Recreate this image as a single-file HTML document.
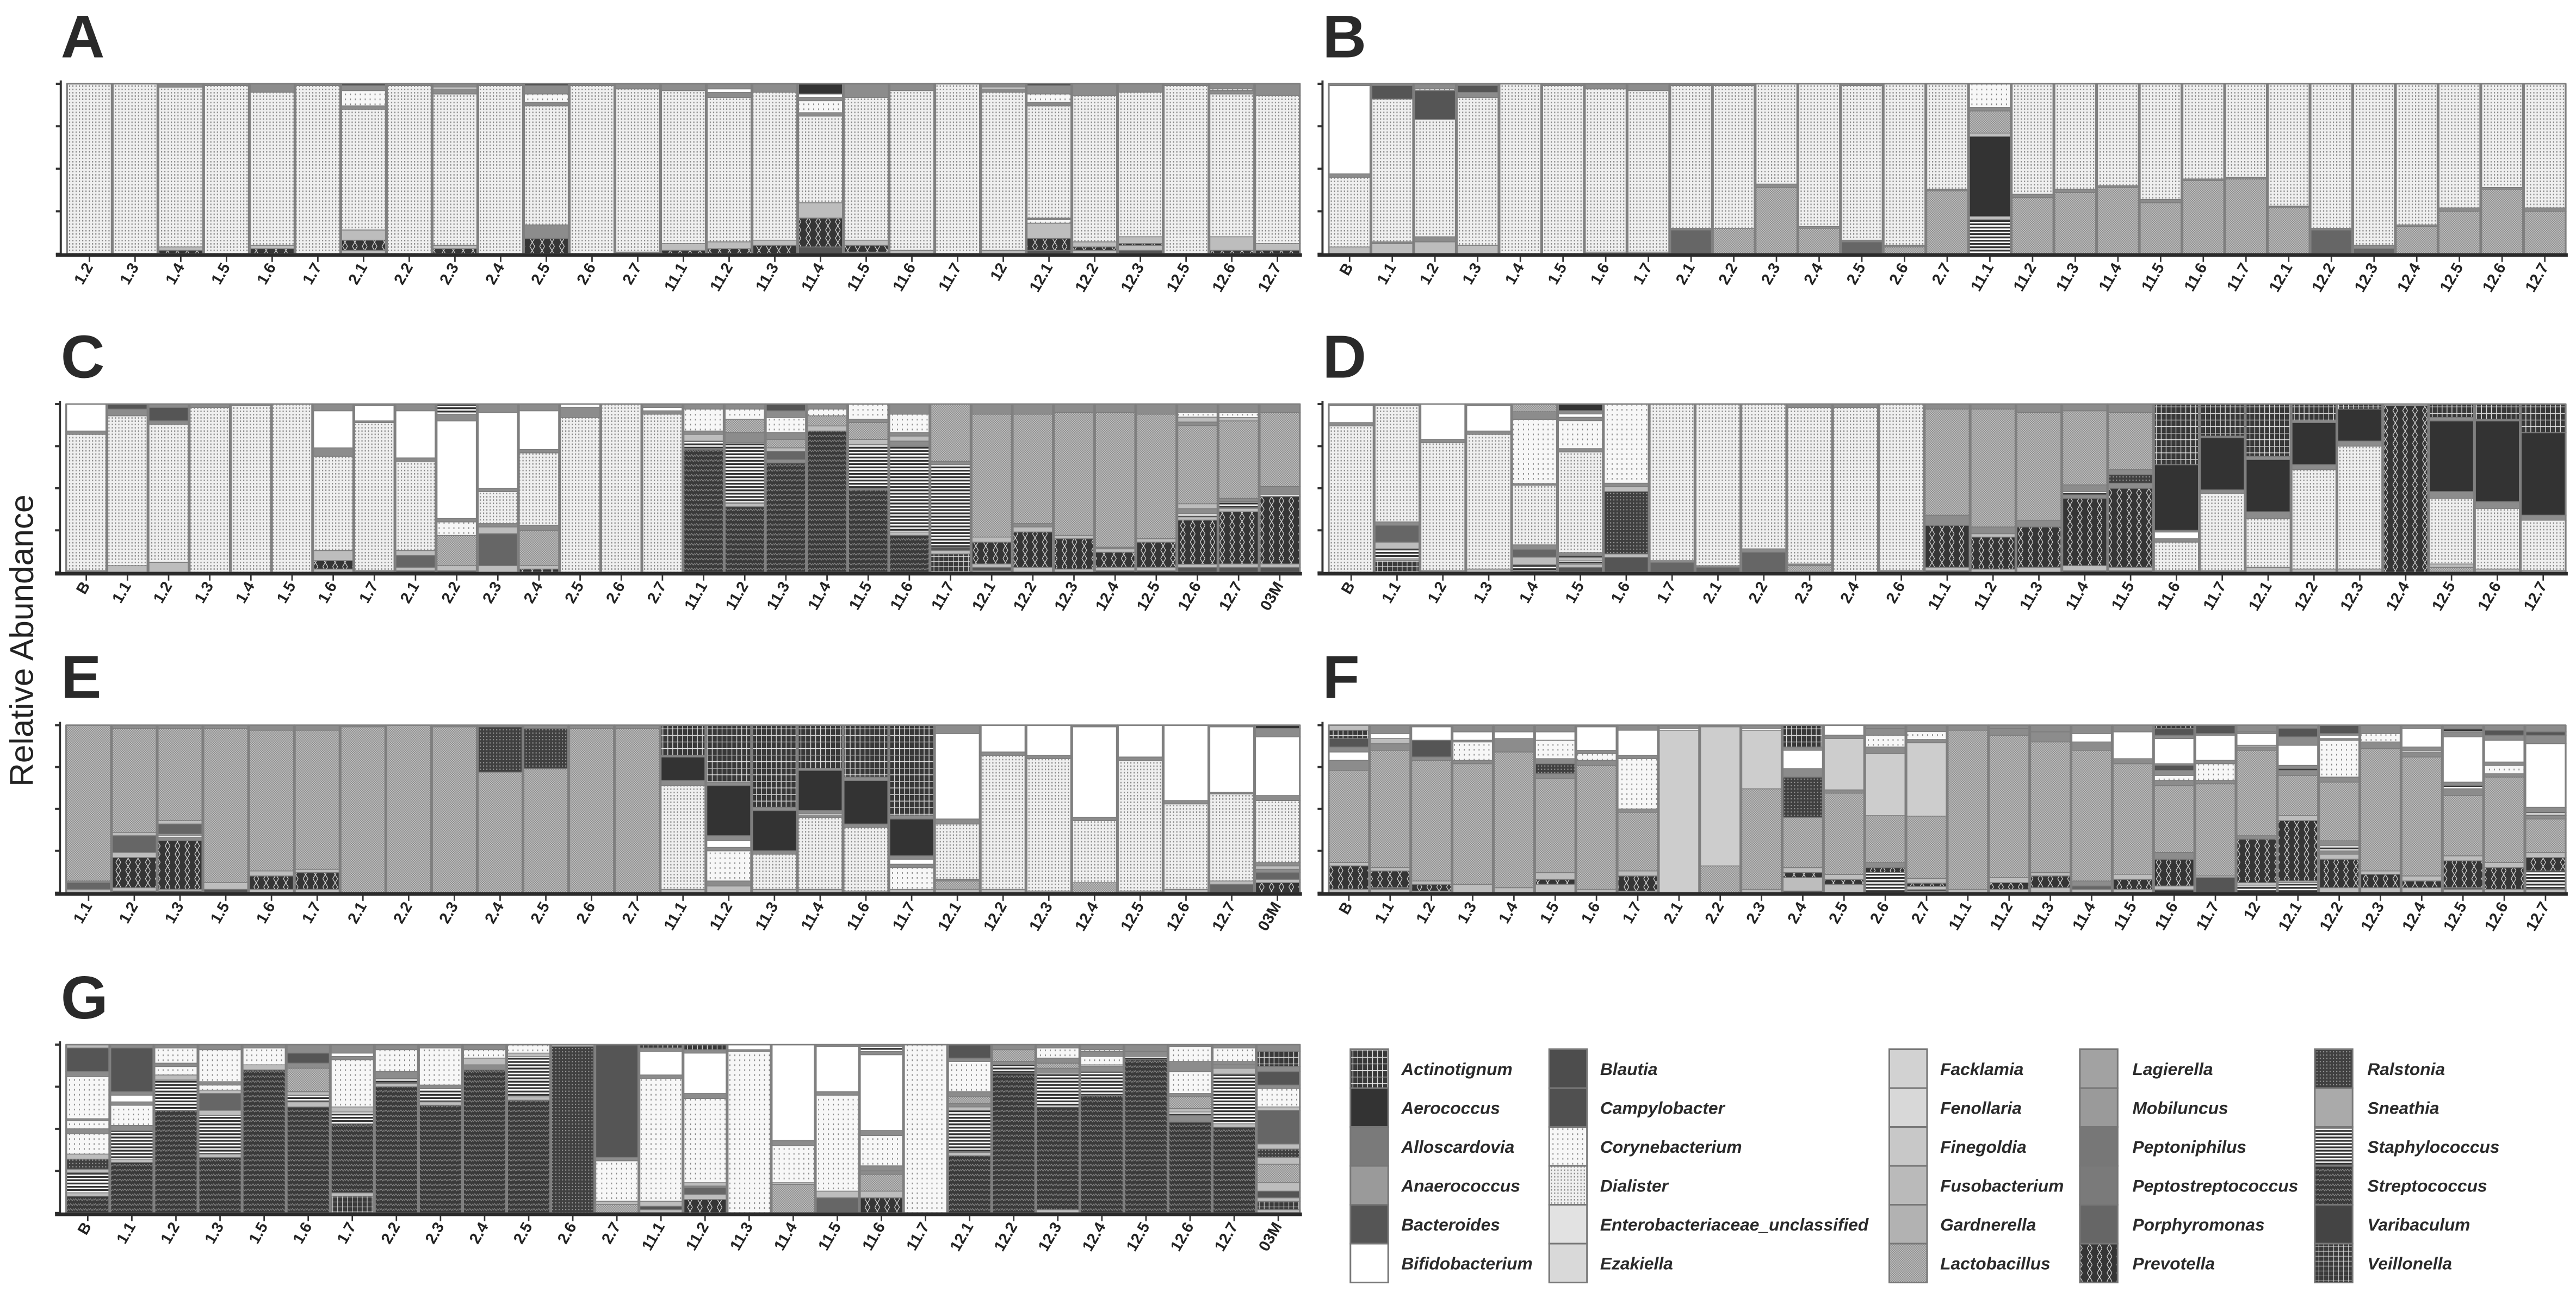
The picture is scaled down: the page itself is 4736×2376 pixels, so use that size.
<!DOCTYPE html>
<html><head><meta charset="utf-8">
<style>
html,body{margin:0;padding:0;background:#fff;}
svg{display:block;}
text{font-family:"Liberation Sans",Arial,sans-serif;}
</style></head>
<body>
<svg id="fig" xmlns="http://www.w3.org/2000/svg" width="4736" height="2376" viewBox="0 0 1568 786.6" preserveAspectRatio="none">
<defs>
  <pattern id="pL" patternUnits="userSpaceOnUse" width="2" height="2"><rect width="2" height="2" fill="#efefef"/><rect width="0.7" height="0.9" fill="#8a8a8a"/></pattern>
  <pattern id="pC" patternUnits="userSpaceOnUse" width="3" height="3"><rect width="3" height="3" fill="#f7f7f7"/><rect width="0.6" height="1" fill="#888"/></pattern>
  <pattern id="pM" patternUnits="userSpaceOnUse" width="1.4" height="1.4"><rect width="1.4" height="1.4" fill="#c2c2c2"/><rect width="0.7" height="0.7" fill="#8a8a8a"/><rect x="0.7" y="0.7" width="0.7" height="0.7" fill="#8a8a8a"/></pattern>
  <pattern id="pH" patternUnits="userSpaceOnUse" width="6" height="5"><rect width="6" height="5" fill="#353535"/><path d="M0 2.5 L1.5 0 M4.5 0 L6 2.5 M0 2.5 L1.5 5 M4.5 5 L6 2.5" stroke="#ddd" stroke-width="0.4" fill="none"/></pattern>
  <pattern id="pA" patternUnits="userSpaceOnUse" width="6" height="4"><rect width="6" height="4" fill="#383838"/><path d="M0 3.7 H6 M1.5 0 V3.7 M4.5 0 V3.7" stroke="#eee" stroke-width="0.4"/></pattern>
  <pattern id="pT" patternUnits="userSpaceOnUse" width="3" height="2"><rect width="3" height="2" fill="#fff"/><rect width="3" height="1.1" fill="#333"/></pattern>
  <pattern id="pS" patternUnits="userSpaceOnUse" width="3" height="3"><rect width="3" height="3" fill="#3a3a3a"/><path d="M0 2 L1 0.8 L2 2 L3 0.8" stroke="#888" stroke-width="0.4" fill="none"/></pattern>
  <pattern id="pV" patternUnits="userSpaceOnUse" width="3" height="3"><rect width="3" height="3" fill="#3a3a3a"/><path d="M0 2.8 H3 M1.5 0 V3" stroke="#ddd" stroke-width="0.35"/></pattern>
  <pattern id="pR" patternUnits="userSpaceOnUse" width="2" height="2"><rect width="2" height="2" fill="#404040"/><rect width="0.7" height="0.7" fill="#999"/></pattern>
</defs>
<g id="plots"></g>
<text transform="translate(20,390) rotate(-90)" text-anchor="middle" font-size="20" fill="#222">Relative Abundance</text>
<g id="legend"></g>
</svg>
<script>
// ---------- data ----------
const labelsA = ["1.2","1.3","1.4","1.5","1.6","1.7","2.1","2.2","2.3","2.4","2.5","2.6","2.7","11.1","11.2","11.3","11.4","11.5","11.6","11.7","12","12.1","12.2","12.3","12.5","12.6","12.7"];
const stacksA = ["L100","L100","H2 l2 L94 g2","L99 g1","H3 l2 L90 g5","L99 g1","l2 H6 l6 L71 g2 C9 g3 D1","L99 g1","H3 l2 L89 g3 W1 g2","L99 g1","H9 g8 L70 g2 C5 g5 D1","L99 g1","g1 L96 g3","H2 l4 L90 g4","H3 l4 L85 g3 W2 g3","H5 l3 L87 g5","K4 H17 l9 L51 g2 C7 g2 W2 D6","g1 H4 l3 L84 g8","l2 L94 g4","L100","l2 L93 g2 W1 g2","K2 H7 l9 C2 g1 L66 g2 C5 g5 D1","l2 H2 l3 L86 g7","K2 l3 H1 l4 L85 g5","L99 g1","H2 l8 L84 g2 C1 g3","H2 l4 L87 g7"];
const labelsB = ["B","1.1","1.2","1.3","1.4","1.5","1.6","1.7","2.1","2.2","2.3","2.4","2.5","2.6","2.7","11.1","11.2","11.3","11.4","11.5","11.6","11.7","12.1","12.2","12.3","12.4","12.5","12.6","12.7"];
const stacksB = ["l4 L41 g2 W52 g1","l6 g1 L84 K8 g1","l7 g3 L69 K17 C1 g3","l5 L87 g3 K4 g1","L100","L99 g1","l1 L96 g3","l1 L95 g4","P14 g1 L84 g1","M15 L84 g1","M39 g2 L59","M15 g1 L84","P7 g1 L91 g1","M4 g1 L95","M37 g1 L62","T20 l2 D47 l2 M13 g2 C14","M33 g2 L65","M36 g2 L62","M39 g1 L60","M30 g2 L68","M43 g1 L56","M44 g1 L55","M27 g1 L72","P14 g1 L85","P3 g2 L95","M16 g1 L83","M25 g2 L73","M38 g1 L61","M25 g2 L73"];
const labelsC = ["B","1.1","1.2","1.3","1.4","1.5","1.6","1.7","2.1","2.2","2.3","2.4","2.5","2.6","2.7","11.1","11.2","11.3","11.4","11.5","11.6","11.7","12.1","12.2","12.3","12.4","12.5","12.6","12.7","03M"];
const stacksC = ["g1 L81 g2 W16","l4 L89 g4 K3","l6 L82 g2 K8 g2","L98 g2","L99 g1","L100","l2 H5 l6 L56 g5 W22 g4","g1 L88 g1 W9 g1","K1 l2 P7 l3 L53 g2 W28 g4","K1 l3 M18 C8 g2 W58 g4 T6","l4 P19 l4 g2 L19 g2 W45 g5","H2 l2 M21 g3 L43 g2 W23 g4","L92 g6 W2","L100","L94 g2 W2 g2","S73 T5 l4 g2 C13 g3","S39 l2 T36 g6 M8 C6 g3","S65 g2 P5 l2 M5 g4 C9 g4 K4","S84 l3 M6 C4 g3","S49 g1 T26 l3 M10 g2 C9","S22 l2 T51 g3 l3 g2 C11 g6","V11 l2 K2 T49 g2 M34","l1 K2 l2 H13 l3 M73 g6","l3 H21 l3 g2 M65 g6","l2 H18 l2 M73 g5","K1 l2 H9 l2 g1 M80 g5","K1 l2 H15 l2 M74 g6","K3 l2 H27 l2 T2 g3 l3 M48 g2 l3 C3 g5","K3 l2 H31 l2 T4 g2 M46 l2 C3 g5","K3 l2 H40 T1 g5 M44 g5"];
const labelsD = ["B","1.1","1.2","1.3","1.4","1.5","1.6","1.7","2.1","2.2","2.3","2.4","2.6","11.1","11.2","11.3","11.4","11.5","11.6","11.7","12.1","12.2","12.3","12.4","12.5","12.6","12.7"];
const stacksD = ["L87 g2 W10 g1","V7 l1 T6 l4 P10 g2 L69 g1","g1 L76 g2 W21","l2 L80 g2 W15 g1","K1 T4 l5 P5 g3 L39 g1 C42 g5 M5","K3 l2 T2 l2 T1 g2 L61 g2 C17 g2 W2 g2 D4","K9 l2 R37 l3 g2 C47","P6 g1 L93","P3 g1 L96","P12 g2 L86","M4 g1 L93 g2","L98 g2","g1 L99","K1 l2 H25 g6 M63 g3","l2 H19 l2 g4 M70 g3","l3 H24 g4 M64 g5","K1 l3 H40 g2 T2 g4 M44 g4","K1 l2 H47 g3 R5 g3 M34 g5","g1 L17 g2 W4 g1 D39 A36","g1 L46 g2 D31 g1 A19","l3 L29 g4 D31 g2 A31","l2 L59 g3 D25 g1 A10","l2 L73 g3 D19 A3","H99 l1","M3 l2 L39 g4 D42 g2 A8","l2 L36 g4 D48 g1 A9","l1 L30 g3 D49 A17"];
const labelsE = ["1.1","1.2","1.3","1.5","1.6","1.7","2.1","2.2","2.3","2.4","2.5","2.6","2.7","11.1","11.2","11.3","11.4","11.6","11.7","12.1","12.2","12.3","12.4","12.5","12.6","12.7","03M"];
const stacksE = ["l2 P4 g1 M93","K1 l2 H18 l3 P10 l2 M62 g2","K1 l1 H29 g2 T1 l1 P6 l2 M55 g2","K2 l4 M92 g2","l2 H8 l3 M84 g3","l2 H10 l2 M83 g3","M99 g1","M100","M99 g1","M72 R27 g1","M74 R24 g2","M98 g2","M98 g2","l2 L62 g3 D14 g1 A18","l4 g3 C18 g2 W4 g3 D30 g2 A34","l2 L21 g2 D24 g2 A49","l2 L43 g1 W1 g2 D24 g1 A26","l1 L38 g2 D26 g2 A31","l2 C13 g2 W3 g2 D22 g2 A54","l2 M5 g1 L33 g3 W51 g5","l2 L80 g2 W16","l1 L79 g2 W18","M6 L37 g2 W54 g1","l1 L78 g2 W19","l2 L51 g2 W45","P5 l2 L52 g1 W39 g1","H6 l2 P4 g2 l2 g2 L37 g3 W35 g5 D2"];
const labelsF = ["B","1.1","1.2","1.3","1.4","1.5","1.6","1.7","2.1","2.2","2.3","2.4","2.5","2.6","2.7","11.1","11.2","11.3","11.4","11.5","11.6","11.7","12","12.1","12.2","12.3","12.4","12.5","12.6","12.7"];
const stacksF = ["l2 H14 l2 M55 g6 W5 g3 K5 A5 l3","l2 T1 H10 l2 M70 g4 l3 W3 g5","l1 H4 l2 M72 g2 K10 W8 g1","l5 M72 g2 C11 g1 W5 g4","l3 M81 g8 W4 g4","l5 H3 l4 M56 g3 R6 g3 C11 W5 g4","l2 M74 g3 C4 g2 W14 g1","l1 H9 l3 M35 g2 C30 g2 W15 g3","F97 W1 g2","M16 F83 g1","l2 M60 F35 W1 g2","K1 l8 H3 l3 M30 R24 g5 W11 g2 A13","l5 H3 l3 M49 g2 F31 g2 W6","T12 H3 g3 M28 F37 g4 C7 g4 g2","l1 T1 l2 H2 l3 M39 F46 g2 C5 g4","l2 M95 g3","l2 H4 l3 M85 g4 g2","l3 H7 l2 M78 g6 g4","l2 P2 g3 M78 g5 W5 g5","l2 H6 l3 M66 g3 W16 g4","T2 l2 H16 g4 M40 g3 C3 g3 K3 g1 W15 g2 K4 A2","K9 l1 M55 g2 C10 g2 W15 g1 K5","T4 l2 H26 g2 M51 g2 l1 W7 g1 g4","T6 l1 H36 l3 M24 g3 T1 g2 W12 g5 K5 g2","l3 H17 l3 g2 T3 g3 M35 g3 C22 g1 W2 g1 K5","l3 H8 l2 M73 g4 C5 g5","l3 H4 l3 M71 g3 T1 g2 W11 g2","l2 T1 H16 l3 M36 g4 T2 g2 W27 g3 T2 g2","l2 H13 l3 M51 g2 C5 g2 W13 g3 K3 g3","l2 T11 H8 l3 M20 g2 T2 g3 W38 g5 K2 g4"];
const labelsG = ["B","1.1","1.2","1.3","1.5","1.6","1.7","2.2","2.3","2.4","2.5","2.6","2.7","11.1","11.2","11.3","11.4","11.5","11.6","11.7","12.1","12.2","12.3","12.4","12.5","12.6","12.7","03M"];
const stacksG = ["S10 l2 T12 l2 R6 l3 C12 g3 C5 g1 C25 g3 K14 l2","S30 l2 T17 g3 C12 g2 W4 g2 K26 g2","S61 T18 l3 C5 g2 C9 g2","S33 l2 T23 l3 P10 l2 C3 g2 C19 g3","S85 l3 C10 g2","S63 l3 T4 l2 M14 g3 K6 g5","V10 l2 S41 T7 l3 C28 g2 W2 g5","S75 l2 T3 g4 C13 g3","S64 l2 T8 g2 C22 g2","S85 g3 l4 C5 g3","S67 l2 T24 l2 C5","R99 l1","M5 l2 C24 g2 K67","l2 K2 l3 C73 g2 W14 g2 A2","H8 l3 P4 g1 l2 C50 g3 W24 g2 A3","C96 g1 W3","M17 l1 C22 g3 W57","P9 l4 C57 g2 W27 g1","H9 l4 M10 g2 g3 C18 g3 W45 g2 T3 g1","C100","S34 l2 T25 l2 g2 M4 g3 C18 g2 K8","S83 T5 g2 M7 g3","l2 S61 T20 g3 M3 g3 C6 g2","S70 T14 g3 l1 C5 g3 C1 g3","S91 T2 g3 g4","S54 g4 T2 l2 M7 g2 C13 g6 C9 g1","S51 l2 T30 l3 g2 g2 C8 g2","l2 V5 l2 K4 l5 M11 l4 R5 l3 P20 l2 C11 g2 K8 g3 A9 g4"];
const legendNames = ["Actinotignum","Aerococcus","Alloscardovia","Anaerococcus","Bacteroides","Bifidobacterium","Blautia","Campylobacter","Corynebacterium","Dialister","Enterobacteriaceae_unclassified","Ezakiella","Facklamia","Fenollaria","Finegoldia","Fusobacterium","Gardnerella","Lactobacillus","Lagierella","Mobiluncus","Peptoniphilus","Peptostreptococcus","Porphyromonas","Prevotella","Ralstonia","Sneathia","Staphylococcus","Streptococcus","Varibaculum","Veillonella"];

// ---------- styling ----------
const fills = {L:"url(#pL)",C:"url(#pC)",W:"#ffffff",M:"url(#pM)",F:"#cdcdcd",g:"#8c8c8c",l:"#bdbdbd",D:"#333333",H:"url(#pH)",S:"url(#pS)",A:"url(#pA)",T:"url(#pT)",K:"#555555",P:"#666666",R:"url(#pR)",V:"url(#pV)"};
const genusOf = {L:"dialister",C:"corynebacterium",W:"bifidobacterium",M:"lactobacillus",F:"fenollaria",g:"mobiluncus",l:"gardnerella",D:"aerococcus",H:"prevotella",S:"streptococcus",A:"actinotignum",T:"staphylococcus",K:"campylobacter",P:"porphyromonas",R:"ralstonia",V:"veillonella"};
const legendFills = ["url(#pA)","#333","#7a7a7a","#9a9a9a","#555","#fff","#4d4d4d","#505050","url(#pC)","url(#pL)","#e2e2e2","#d9d9d9","#d2d2d2","#d8d8d8","#c8c8c8","#bababa","#b2b2b2","url(#pM)","#a2a2a2","#9a9a9a","#777","#7a7a7a","#666","url(#pH)","url(#pR)","#aaa","url(#pT)","url(#pS)","#444","url(#pV)"];

const NS = "http://www.w3.org/2000/svg";
function mk(tag, attrs, parent){ const e=document.createElementNS(NS,tag); for(const k in attrs) e.setAttribute(k,attrs[k]); if(parent) parent.appendChild(e); return e; }
const plots = document.getElementById('plots');

const panels = [
  {id:"A", labels:labelsA, stacks:stacksA, x0:40.5, x1:791.5, yTop:51, yBot:154.5, lx:37, ly:35},
  {id:"B", labels:labelsB, stacks:stacksB, x0:808.5, x1:1562, yTop:51, yBot:154.5, lx:805, ly:35},
  {id:"C", labels:labelsC, stacks:stacksC, x0:40, x1:791.5, yTop:246, yBot:348.5, lx:37, ly:230},
  {id:"D", labels:labelsD, stacks:stacksD, x0:808.5, x1:1562, yTop:246, yBot:348.5, lx:805, ly:230},
  {id:"E", labels:labelsE, stacks:stacksE, x0:40, x1:791.5, yTop:441.5, yBot:543.5, lx:37, ly:425},
  {id:"F", labels:labelsF, stacks:stacksF, x0:808.5, x1:1562, yTop:441.5, yBot:543.5, lx:805, ly:425},
  {id:"G", labels:labelsG, stacks:stacksG, x0:40, x1:791.5, yTop:636, yBot:738.5, lx:37, ly:620}
];

function parseStack(s){ return s.trim().split(/\s+/).map(t=>({k:t[0], v:parseFloat(t.slice(1))})); }

panels.forEach(p=>{
  const g = mk('g',{},plots);
  
  
  const lt = mk('text',{x:p.lx, y:p.ly, 'font-size':37, 'font-weight':'bold', fill:'#2a2a2a'},g);
  lt.textContent = p.id;
  
  
  const n = p.labels.length, bw = (p.x1-p.x0)/n;
  const xScale = i => p.x0 + i*bw;
  const yScale = f => p.yBot - f*(p.yBot-p.yTop);
  p.stacks.forEach((s,i)=>{
    const segs = parseStack(s);
    const total = segs.reduce((a,b)=>a+b.v,0);
    const bar = mk('g',{},g);
    
    
    let cum = 0;
    segs.forEach(sg=>{
      const y1 = yScale(cum/total), y2 = yScale((cum+sg.v)/total);
      const r = mk('rect',{x:xScale(i), y:y2, width:bw, height:Math.max(0,y1-y2), fill:fills[sg.k]||'#999', stroke:'#7c7c7c', 'stroke-width':0.5},bar);
      
      
      cum += sg.v;
    });
    mk('rect',{x:xScale(i)+0.4, y:p.yTop, width:bw-0.8, height:p.yBot-p.yTop, fill:'none', stroke:'#808080', 'stroke-width':0.9},bar);
    const cx = xScale(i)+bw/2;
    const tk = mk('line',{x1:cx, x2:cx, y1:p.yBot+1, y2:p.yBot+5, stroke:'#333', 'stroke-width':0.9},g);
    
    
    const tl = mk('text',{x:cx+2.5, y:p.yBot+8, 'font-size':9.5, 'font-weight':'bold', fill:'#222', 'text-anchor':'end', transform:'rotate(-60 '+(cx+2.5)+' '+(p.yBot+8)+')'},g);
    tl.textContent = p.labels[i];
    
    
  });
  const ax = p.x0-3.5;
  const yl = mk('line',{x1:ax, x2:ax, y1:p.yTop-2, y2:p.yBot+1.5, stroke:'#333', 'stroke-width':1.3},g);
  
  
  for(let t=0;t<=4;t++){
    const yy = p.yBot - t*(p.yBot-p.yTop)/4;
    const ty = mk('line',{x1:ax-3, x2:ax, y1:yy, y2:yy, stroke:'#333', 'stroke-width':1.3},g);
    
    
  }
  const xl = mk('line',{x1:ax-3, x2:p.x1+1, y1:p.yBot+0.8, y2:p.yBot+0.8, stroke:'#2a2a2a', 'stroke-width':2.2},g);
  
  
});

// legend
const leg = document.getElementById('legend');
const colSw = [822,943,1150,1266,1409], colTx = [853,974,1181,1298,1441];
const rowTop = 638.8, rowH = 23.67;
legendNames.forEach((nm,i)=>{
  const c = Math.floor(i/6), r = i%6;
  const e = mk('g',{},leg);
  
  
  mk('rect',{x:colSw[c], y:rowTop+r*rowH, width:23, height:rowH, fill:legendFills[i], stroke:'#777', 'stroke-width':1},e);
  const t = mk('text',{x:colTx[c], y:rowTop+r*rowH+rowH/2+3.8, 'font-size':10.5, 'font-weight':'bold', 'font-style':'italic', fill:'#2a2a2a'},e);
  t.textContent = nm;
});
</script>
</body></html>
